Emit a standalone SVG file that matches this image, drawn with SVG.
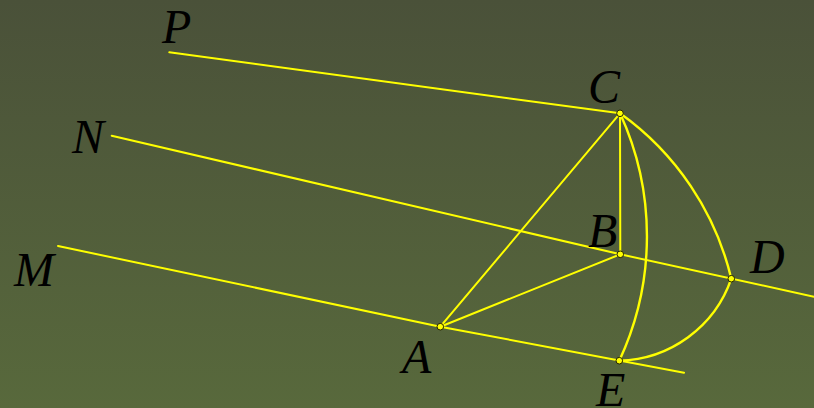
<svg xmlns="http://www.w3.org/2000/svg" width="814" height="408" viewBox="0 0 814 408">
<defs>
<linearGradient id="bg" x1="0" y1="0" x2="0" y2="1">
<stop offset="0" stop-color="#4a5139"/>
<stop offset="1" stop-color="#58693c"/>
</linearGradient>
</defs>
<style>
.ln{stroke:#ffff00;stroke-width:2;fill:none;stroke-linecap:round;stroke-linejoin:round}
.arc{stroke:#ffff00;stroke-width:2.4;fill:none}
.pt{fill:#ffff00;stroke:#222200;stroke-width:1}
.lb{font-family:"Liberation Serif","Times New Roman",serif;font-style:italic;font-size:48px;fill:#000}
</style>
<rect x="0" y="0" width="814" height="408" fill="url(#bg)"/>
<g id="connectors">
<polyline class="ln" points="169.3,52.3 620,113.3"/>
<polyline class="ln" points="111.7,135.7 620.3,254.3 814,296.7"/>
<polyline class="ln" points="58,246 440.3,326.7 684,372.7"/>
<line class="ln" x1="620" y1="113.3" x2="440.3" y2="326.7"/>
<line class="ln" x1="620" y1="113.3" x2="620.3" y2="254.3"/>
<line class="ln" x1="620.3" y1="254.3" x2="440.3" y2="326.7"/>
<path class="arc" d="M620,113.3 A284.6,284.6 0 0 1 731.3,278.7 A121.5,121.5 0 0 1 619.3,360.7"/>
<path class="arc" d="M620,113.3 A294,294 0 0 1 619.3,360.7"/>
</g>
<g id="P"><text class="lb" x="162" y="42.7">P</text></g>
<g id="N"><text class="lb" x="72" y="153.3">N</text></g>
<g id="M"><text class="lb" x="14" y="285.7">M</text></g>
<g id="A"><circle class="pt" cx="440.3" cy="326.7" r="3.3"/><text class="lb" x="402" y="373.3">A</text></g>
<g id="C"><circle class="pt" cx="620" cy="113.3" r="3.3"/><text class="lb" x="588" y="102.5">C</text></g>
<g id="B"><circle class="pt" cx="620.3" cy="254.3" r="3.3"/><text class="lb" x="588" y="246.7">B</text></g>
<g id="D"><circle class="pt" cx="731.3" cy="278.7" r="3.3"/><text class="lb" x="750" y="273.3">D</text></g>
<g id="E"><circle class="pt" cx="619.3" cy="360.7" r="3.3"/><text class="lb" x="596" y="406">E</text></g>
</svg>
